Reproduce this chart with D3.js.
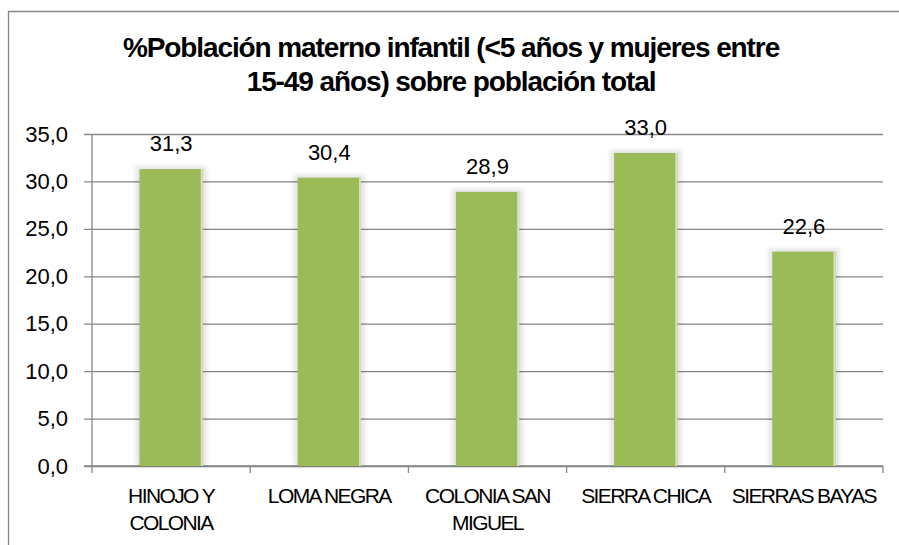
<!DOCTYPE html>
<html>
<head>
<meta charset="utf-8">
<script src="https://cdn.jsdelivr.net/npm/d3@7"></script>
<style>
  body { margin: 0; background: #fff; }
  svg { display: block; font-family: Arial, "Liberation Sans", sans-serif; }
</style>
</head>
<body>
<svg id="chart" width="899" height="545"></svg>
<script>
// data
var titleLines = ["%Población materno infantil (<5 años y mujeres entre", "15-49 años) sobre población total"];
var categories = ["HINOJO Y COLONIA", "LOMA NEGRA", "COLONIA SAN MIGUEL", "SIERRA CHICA", "SIERRAS BAYAS"];
var labelLines = [["HINOJO Y", "COLONIA"], ["LOMA NEGRA"], ["COLONIA SAN", "MIGUEL"], ["SIERRA CHICA"], ["SIERRAS BAYAS"]];
var values = [31.3, 30.4, 28.9, 33.0, 22.6];
var yTicks = [0, 5, 10, 15, 20, 25, 30, 35];

var svg = d3.select("#chart");
var plotLeft = 92, plotRight = 883, plotTop = 134, plotBottom = 466;
var grey = "#868686";
var fmt = function(v) { return d3.format(".1f")(v).replace(".", ","); };

var x = d3.scaleBand().domain(categories).range([plotLeft, plotRight]).paddingInner(0.6).paddingOuter(0.3);
var y = d3.scaleLinear().domain([0, 35]).range([plotBottom, plotTop]);

// blur for the soft glow round the bars
var defs = svg.append("defs");
defs.append("filter").attr("id", "glow")
    .attr("x", "-20%").attr("y", "-20%").attr("width", "140%").attr("height", "140%")
  .append("feGaussianBlur").attr("stdDeviation", 2);

// outer chart border (cut off at right and bottom)
svg.append("path")
    .attr("d", "M8.5,545V11.5H899")
    .attr("fill", "none")
    .attr("stroke", grey)
    .attr("stroke-width", 1.3);

// title
svg.append("text")
    .attr("x", 451)
    .attr("font-size", 28)
    .attr("font-weight", "bold")
    .attr("letter-spacing", "-1.1px")
    .attr("text-anchor", "middle")
  .selectAll("tspan")
  .data(titleLines)
  .enter().append("tspan")
    .attr("x", 451)
    .attr("y", function(d, i) { return 57 + i * 34; })
    .text(function(d) { return d; });

// gridlines with outside ticks
var yAxis = d3.axisLeft(y).tickValues(yTicks).tickSize(plotRight - plotLeft + 8).tickFormat(fmt).tickPadding(16);
var gy = svg.append("g")
    .attr("transform", "translate(" + plotRight + ",0)")
    .call(yAxis);
gy.select(".domain").remove();
gy.selectAll(".tick line").attr("stroke", grey).attr("stroke-width", 1.3);
gy.selectAll(".tick text")
    .attr("font-size", 22)
    .attr("fill", "#000")
    .attr("x", -(plotRight - plotLeft) - 24);

// y axis line
svg.append("line")
    .attr("x1", plotLeft).attr("x2", plotLeft)
    .attr("y1", plotTop).attr("y2", plotBottom)
    .attr("stroke", grey).attr("stroke-width", 1.3);

// x axis line with ticks between categories
svg.append("line")
    .attr("x1", plotLeft - 8).attr("x2", plotRight)
    .attr("y1", plotBottom).attr("y2", plotBottom)
    .attr("stroke", grey).attr("stroke-width", 1.3);
var step = x.step();
svg.append("g").selectAll("line")
  .data(d3.range(categories.length + 1))
  .enter().append("line")
    .attr("x1", function(i) { return plotLeft + i * step; })
    .attr("x2", function(i) { return plotLeft + i * step; })
    .attr("y1", plotBottom)
    .attr("y2", plotBottom + 7)
    .attr("stroke", grey).attr("stroke-width", 1.3);

// bars
var bars = svg.append("g").selectAll("g")
  .data(values)
  .enter().append("g");

bars.append("rect")
    .attr("x", function(d, i) { return x(categories[i]) - 4; })
    .attr("y", function(d) { return y(d) - 3; })
    .attr("width", x.bandwidth() + 8)
    .attr("height", function(d) { return plotBottom - y(d) + 3; })
    .attr("fill", "#000")
    .attr("opacity", 0.1)
    .attr("filter", "url(#glow)");

bars.append("rect")
    .attr("x", function(d, i) { return x(categories[i]); })
    .attr("y", function(d) { return y(d); })
    .attr("width", x.bandwidth())
    .attr("height", function(d) { return plotBottom - y(d); })
    .attr("fill", "#9bbb59");

bars.append("rect")
    .attr("x", function(d, i) { return x(categories[i]) + x.bandwidth() - 2; })
    .attr("y", function(d) { return y(d); })
    .attr("width", 2)
    .attr("height", function(d) { return plotBottom - y(d); })
    .attr("fill", "#d6e3bc");

// value labels
bars.append("text")
    .attr("x", function(d, i) { return x(categories[i]) + x.bandwidth() / 2; })
    .attr("y", function(d) { return y(d) - 18; })
    .attr("text-anchor", "middle")
    .attr("font-size", 22)
    .text(fmt);

// category labels
var cat = svg.append("g").selectAll("text")
  .data(labelLines)
  .enter().append("text")
    .attr("font-size", 21)
    .attr("letter-spacing", "-1.6px")
    .attr("text-anchor", "middle");
cat.selectAll("tspan")
  .data(function(d, i) { return d.map(function(t) { return {t: t, c: categories[i]}; }); })
  .enter().append("tspan")
    .attr("x", function(d) { return x(d.c) + x.bandwidth() / 2; })
    .attr("y", function(d, j) { return 503 + j * 27; })
    .text(function(d) { return d.t; });
</script>
</body>
</html>
